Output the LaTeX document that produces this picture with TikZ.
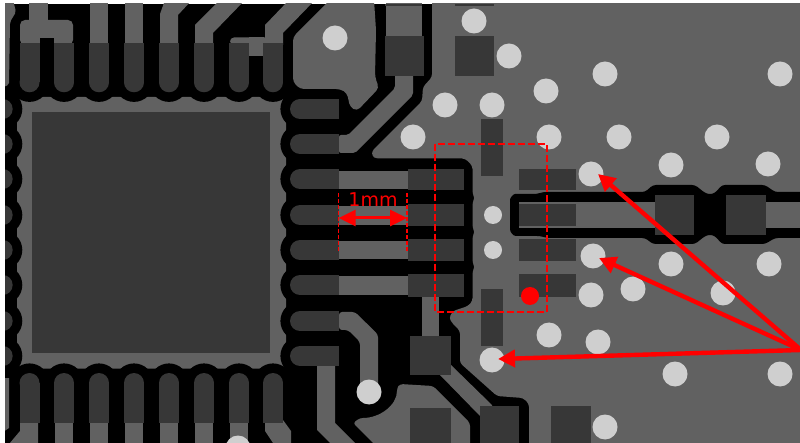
\documentclass[tikz,border=0pt]{standalone}
\usepackage{fontspec}
\setmainfont{DejaVu Sans}
\usetikzlibrary{arrows.meta}
\definecolor{cuc}{HTML}{616161}
\definecolor{padc}{HTML}{373737}
\definecolor{viac}{HTML}{CFCFCF}
\definecolor{redc}{HTML}{FF0000}
\tikzset{
  cu/.style={fill=cuc},
  pd/.style={fill=padc},
  viah/.style={fill=viac},
  gap/.style={fill=black},
  redline/.style={draw=redc,line width=2.6pt,dash pattern=on 7pt off 3pt},
  dimline/.style={draw=redc,line width=1.4pt,dash pattern=on 4pt off 2pt},
  bigarrow/.style={draw=redc,line width=4.4pt,-{Triangle[length=17pt,width=17pt]}},
  dimarrow/.style={draw=redc,line width=3pt,{Triangle[length=17pt,width=16pt]}-{Triangle[length=17pt,width=16pt]}}
}
\begin{document}
\begin{tikzpicture}[x=1pt,y=-1pt]
\useasboundingbox (0,0) rectangle (800,443);
\fill[white] (0,0) rectangle (800,443);
\begin{scope}
\clip (5,4) rectangle (800,443);
\fill[black] (5,4) rectangle (800,443);
% exposed pad copper with scalloped keep-out
\fill[cu,rounded corners=7pt] (17,97) rectangle (286,368.7);
\foreach \c in {29.5,64,99,134,169,204,239,273}{
  \fill[gap] (\c,82.3) circle (19.6pt);
  \fill[gap] (\c,383) circle (19.6pt);
}
\foreach \c in {109,144,179,215,250,285,321,356}{
  \fill[gap] (2.7,\c) circle (19.6pt);
  \fill[gap] (300,\c) circle (19.6pt);
}
\fill[pd] (32,112) rectangle (270,353);
% main plane on the right
\fill[cu,rounded corners=3pt] (432,0) -- (432,77) -- (423,87) -- (422,101) -- (372,151) -- (372,156) -- (376,158.5)
  -- (465,158.5) -- (472.5,166) -- (472.5,194) -- (475,198) -- (472.5,202) -- (472.5,228) -- (475,232) -- (472.5,236) -- (472.5,263) -- (475,267) -- (472.5,271) -- (472.5,301) -- (468,306) -- (453,311) -- (449,318) -- (453,324) -- (460,331)
  -- (460,363) -- (497,396) -- (523,398) -- (529,404) -- (529,450) -- (810,450) -- (810,0) -- cycle;
% keep-out slot around the right trace
\fill[gap,rounded corners=3pt] (810,192) -- (775,192) -- (765,185) -- (722,185) -- (715,193) -- (710,194.5) -- (705,193) -- (695,185)
  -- (653,185) -- (645,192) -- (543,192) -- (537,194) -- (518,194) .. controls (513,194) and (510,198) .. (510,203) -- (510,226) .. controls (510,232) and (513,236) .. (519,236) -- (540,236) -- (547,238)
  -- (645,238) -- (653,244) -- (695,244) -- (705,236) -- (710,234.5) -- (715,236) -- (722,244) -- (765,244) -- (775,238) -- (810,238) -- cycle;
\fill[cu] (519,202) rectangle (655,228);
\fill[cu] (766,202) rectangle (810,228);
% left edge slivers
\fill[cu,rounded corners=2pt] (0,0) -- (13,0) -- (16,12) -- (10,22) -- (9,85) -- (0,88) -- cycle;
\fill[cu] (0,378) -- (9,378) -- (9,428) -- (0,434) -- cycle;
% top traces
\fill[cu,rounded corners=5pt] (20,45) -- (20,20) -- (73,20) -- (73,45) -- cycle;
\fill[cu] (29,25) rectangle (47.5,0);
\fill[black] (39.5,38.5) rectangle (54,46);
\fill[cu] (90,45) rectangle (108,0);
\fill[cu] (125,45) rectangle (143,0);
\fill[cu] (160,45) -- (160,14) -- (165,0) -- (192,0) -- (178,15) -- (178,45) -- cycle;
\fill[cu] (195,45) -- (195,25) -- (220,0) -- (245,0) -- (213,33) -- (213,45) -- cycle;
\fill[cu] (265,45) -- (265,25) -- (289,0) -- (315,0) -- (283,33) -- (283,45) -- cycle;
\fill[cu,rounded corners=4pt] (230,45) -- (230,37.5) -- (270,37.5) -- (270,45) -- cycle;
\fill[cu] (249,37.5) rectangle (264,56);
% large copper island, top
\fill[cu,rounded corners=4pt] (293,37) -- (330,0) -- (374,0) -- (376,30) -- (375,77) -- (379,88) -- (357,111) -- (350,107) -- (347,93) -- (340,89) -- (300,89) -- (293,82) -- cycle;
% trace to the top square pad
\fill[cu] (386,0) rectangle (422,36);
\fill[cu,rounded corners=2pt] (339,135) -- (348,135) -- (395,88) -- (395,70) -- (413,70) -- (413,95) -- (355,153) -- (339,153) -- cycle;
% horizontal traces
\fill[cu] (339,171) rectangle (408,189);
\fill[cu] (339,206) rectangle (408,225);
\fill[cu] (339,241) rectangle (408,259);
\fill[cu] (339,276) rectangle (408,295);
\fill[cu,rounded corners=3pt] (339,312) -- (355,312) -- (378,334.5) -- (378,395) -- (360,395) -- (360,342) -- (348,330) -- (339,330) -- cycle;
\fill[cu] (317,366) -- (335,366) -- (335,423) -- (357,445) -- (332,445) -- (317,430) -- cycle;
% lower copper
\fill[cu] (422,295) rectangle (439,340);
\fill[cu] (440,375) -- (451,365) -- (492,405) -- (492,416) -- (480,416) -- cycle;
\fill[cu,rounded corners=3pt] (353,423) -- (360,418) .. controls (380,418) and (397,405) .. (397,388) -- (400,384) -- (433,386) -- (470,423) -- (470,450) -- (380,450) -- cycle;
% bottom traces
\foreach \c in {64,99,134,169,204,239}{
  \fill[cu] (\c-9,420) rectangle (\c+9,450);
}
\fill[cu] (20,420) -- (38,420) -- (38,450) -- (4,450) -- (20,431) -- cycle;
\fill[cu] (265,420) -- (283,420) -- (291,431) -- (291,450) -- (273,450) -- (273,443) -- (265,431) -- cycle;
% QFN pads
\foreach \c in {29.5,64,99,134,169,204,239,273}{
  \fill[pd] (\c-10,43) rectangle (\c+10,82.3);
  \fill[pd] (\c,82.3) circle (10pt);
  \fill[pd] (\c-10,423) rectangle (\c+10,383);
  \fill[pd] (\c,383) circle (10pt);
}
\foreach \c in {109,144,179,215,250,285,321,356}{
  \fill[pd] (2.7,\c) circle (10pt);
  \fill[pd] (339,\c-10) rectangle (300,\c+10);
  \fill[pd] (300,\c) circle (10pt);
}
% connector pads
\fill[pd] (408,169) rectangle (464,190);
\fill[pd] (408,204) rectangle (464,226);
\fill[pd] (408,239) rectangle (464,261);
\fill[pd] (408,274) rectangle (464,297);
\fill[pd] (519,169) rectangle (576,190);
\fill[pd] (519,204) rectangle (576,226);
\fill[pd] (519,239) rectangle (576,261);
\fill[pd] (519,274) rectangle (576,297);
% square pads
\fill[pd] (385,36) rectangle (424,76);
\fill[pd] (455,36) rectangle (494,76);
\fill[pd] (385,4) rectangle (422,6);
\fill[pd] (455,4) rectangle (494,6);
\fill[pd] (655,195) rectangle (694,235);
\fill[pd] (726,195) rectangle (766,235);
\fill[pd] (410,336) rectangle (451,375);
\fill[pd] (410,408) rectangle (451,450);
\fill[pd] (480,406) rectangle (519,450);
\fill[pd] (551,406) rectangle (591,450);
\fill[pd] (481,119) rectangle (503,176);
\fill[pd] (481,289) rectangle (503,346);
% vias
\foreach \x/\y in {474/21,509/56,605/74,780/74,546/91,445/105,492/105,413/137,549/137,619/137,717/137,671/165,768/164,591/174,593/256,671/264,769/264,591/295,633/289,723/293,549/335,598/342,492/360,675/374,780/374,605/427,335/38,369/392,238/448}{
  \fill[viah] (\x,\y) circle (12.5pt);
}
\fill[viah] (493,215) circle (9pt);
\fill[viah] (493,250) circle (9pt);
\end{scope}
% annotations
\coordinate (boxa) at (435,144);
\coordinate (boxb) at (547,312);
\draw[redline] (boxa) rectangle (boxb);
\coordinate (dimla) at (338.7,193);
\coordinate (dimlb) at (338.7,251);
\coordinate (dimra) at (407,193);
\coordinate (dimrb) at (407,251);
\draw[dimline] (dimla) -- (dimlb);
\draw[dimline] (dimra) -- (dimrb);
\draw[dimarrow] (dimla |- 0,218) -- (dimra |- 0,218);
\node[text=redc,font=\fontsize{19}{19}\selectfont,inner sep=0pt] (dimtext) at (373,199.5) {1mm};
\fill[redc] (530,296) circle (9pt);
\coordinate (apex) at (801,350);
\coordinate (tipa) at (598,174);
\coordinate (tipb) at (599,258);
\coordinate (tipc) at (498,359);
\draw[bigarrow] (apex) -- (tipa);
\draw[bigarrow] (apex) -- (tipb);
\draw[bigarrow] (apex) -- (tipc);
\end{tikzpicture}
\end{document}
